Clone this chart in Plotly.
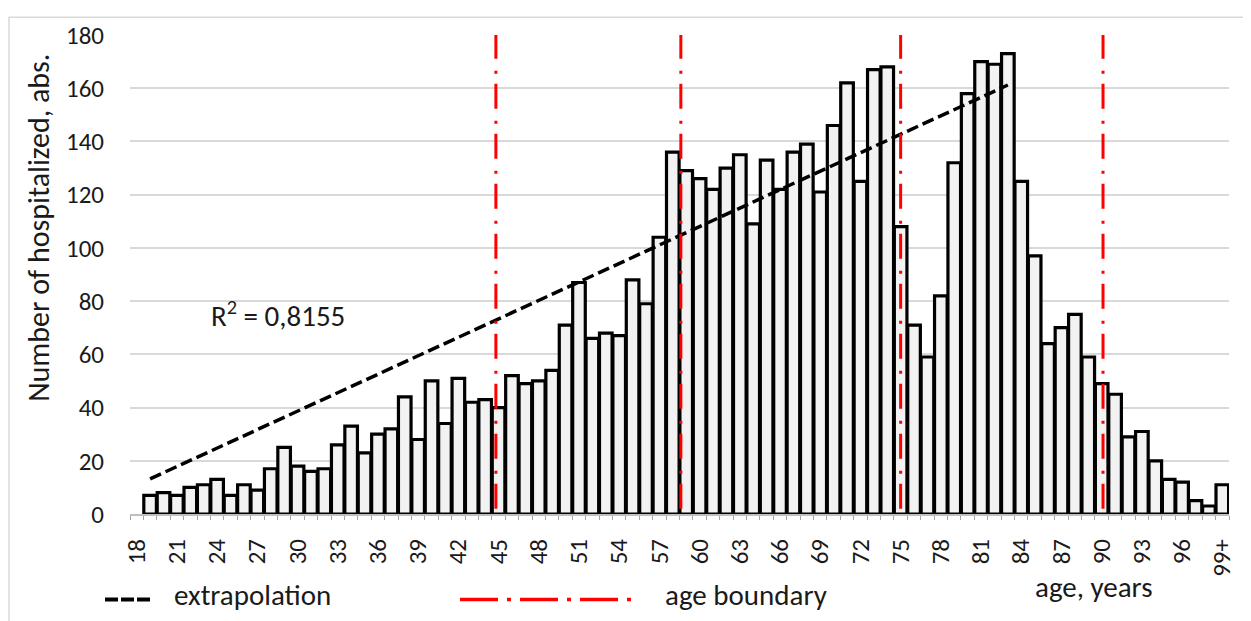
import plotly.graph_objects as go

# ---------------- data ----------------
age_labels = [str(a) for a in range(18, 99)] + ["99+"]
hospitalized = [None, 7, 8, 7, 10, 11, 13, 7, 11, 9, 17, 25, 18, 16, 17, 26, 33, 23, 30, 32,
                44, 28, 50, 34, 51, 42, 43, 40, 52, 49, 50, 54, 71, 87, 66, 68, 67, 88, 79,
                104, 136, 129, 126, 122, 130, 135, 109, 133, 122, 136, 139, 121, 146, 162,
                125, 167, 168, 108, 71, 59, 82, 132, 158, 170, 169, 173, 125, 97, 64, 70,
                75, 59, 49, 45, 29, 31, 20, 13, 12, 5, 3, 11]
tick_every = 3
trend_ages = [19, 83]
trend_values = [13.2, 161.2]
age_boundaries = [44.8, 58.6, 75.0, 90.1]
first_age = 18
r2_text = "R<sup>2</sup> = 0,8155"

# ---------------- layout constants ----------------
OFF = 8  # page body margin
W, H = 1243, 613
L, R, T, B = 122, 22, 19, 107
PW, PH = W - L - R, H - T - B
FONT = "Calibri, Carlito, Lato, sans-serif"
TXT = "#1a1a1a"


def px_x(p):
    return (p - OFF - L) / PW


def px_y(p):
    return (H - B - (p - OFF)) / PH


pos = list(range(len(age_labels)))

fig = go.Figure()
fig.add_trace(go.Bar(
    x=pos, y=hospitalized,
    marker=dict(color="#f2f2f2", line=dict(color="black", width=3.2)),
    showlegend=False, hoverinfo="x+y",
))
fig.add_trace(go.Scatter(
    x=[a - first_age for a in trend_ages], y=trend_values,
    mode="lines", line=dict(color="black", width=3.5, dash="12px,5px"),
    showlegend=False,
))

shapes = []
for b in age_boundaries:
    shapes.append(dict(type="line", xref="x", yref="y",
                       x0=b - first_age, x1=b - first_age, y0=2, y1=180,
                       line=dict(color="#ff0000", width=3, dash="25px,10px,3px,12px"),
                       layer="above"))
# chart border
shapes.append(dict(type="rect", xref="paper", yref="paper",
                   x0=px_x(9), x1=px_x(1246), y0=px_y(9), y1=px_y(640),
                   line=dict(color="#d9d9d9", width=1.5), layer="below"))
# legend samples
shapes.append(dict(type="line", xref="paper", yref="paper",
                   x0=px_x(105), x1=px_x(150), y0=px_y(601), y1=px_y(601),
                   line=dict(color="black", width=4, dash="13px,3px")))
shapes.append(dict(type="line", xref="paper", yref="paper",
                   x0=px_x(460), x1=px_x(635), y0=px_y(601), y1=px_y(601),
                   line=dict(color="#ff0000", width=3.5, dash="38px,9px,4px,9px")))

annotations = [
    dict(text="extrapolation", xref="paper", yref="paper", x=px_x(172), y=px_y(596),
         xanchor="left", yanchor="middle", showarrow=False,
         font=dict(family=FONT, size=29, color=TXT)),
    dict(text="age boundary", xref="paper", yref="paper", x=px_x(663), y=px_y(596),
         xanchor="left", yanchor="middle", showarrow=False,
         font=dict(family=FONT, size=29, color=TXT)),
    dict(text="age, years", xref="paper", yref="paper", x=px_x(1033), y=px_y(588),
         xanchor="left", yanchor="middle", showarrow=False,
         font=dict(family=FONT, size=29, color=TXT)),
    dict(text=r2_text, xref="paper", yref="paper", x=px_x(209), y=px_y(311),
         xanchor="left", yanchor="middle", showarrow=False,
         font=dict(family=FONT, size=29, color=TXT)),
    dict(text="Number of hospitalized, abs.", xref="paper", yref="paper",
         x=px_x(39), y=px_y(223), textangle=-90, xanchor="center", yanchor="middle",
         showarrow=False, font=dict(family=FONT, size=30, color=TXT)),
]

fig.update_layout(
    width=W, height=H,
    margin=dict(l=L, r=R, t=T, b=B),
    paper_bgcolor="white", plot_bgcolor="white",
    bargap=0.06,
    shapes=shapes, annotations=annotations,
    font=dict(family=FONT, color=TXT),
)
fig.update_xaxes(
    range=[-0.5, len(age_labels) - 0.5],
    tickmode="array", tickvals=pos[::tick_every], ticktext=age_labels[::tick_every],
    tickangle=-90, tickfont=dict(family=FONT, size=25, color=TXT),
    ticks="", ticklabelstandoff=13,
    showline=True, linecolor="#bfbfbf", linewidth=2,
    showgrid=False, zeroline=False,
    minor=dict(tickmode="linear", tick0=-0.5, dtick=1, ticks="outside",
               ticklen=4, tickcolor="#a6a6a6", tickwidth=1, showgrid=False),
)
fig.update_yaxes(
    range=[0, 180], dtick=20, tick0=0,
    showgrid=True, gridcolor="#d9d9d9", gridwidth=1.5,
    zeroline=False, showline=False, ticks="",
    tickfont=dict(family=FONT, size=25, color=TXT), ticklabelstandoff=25,
)

fig.write_html("out.html")
